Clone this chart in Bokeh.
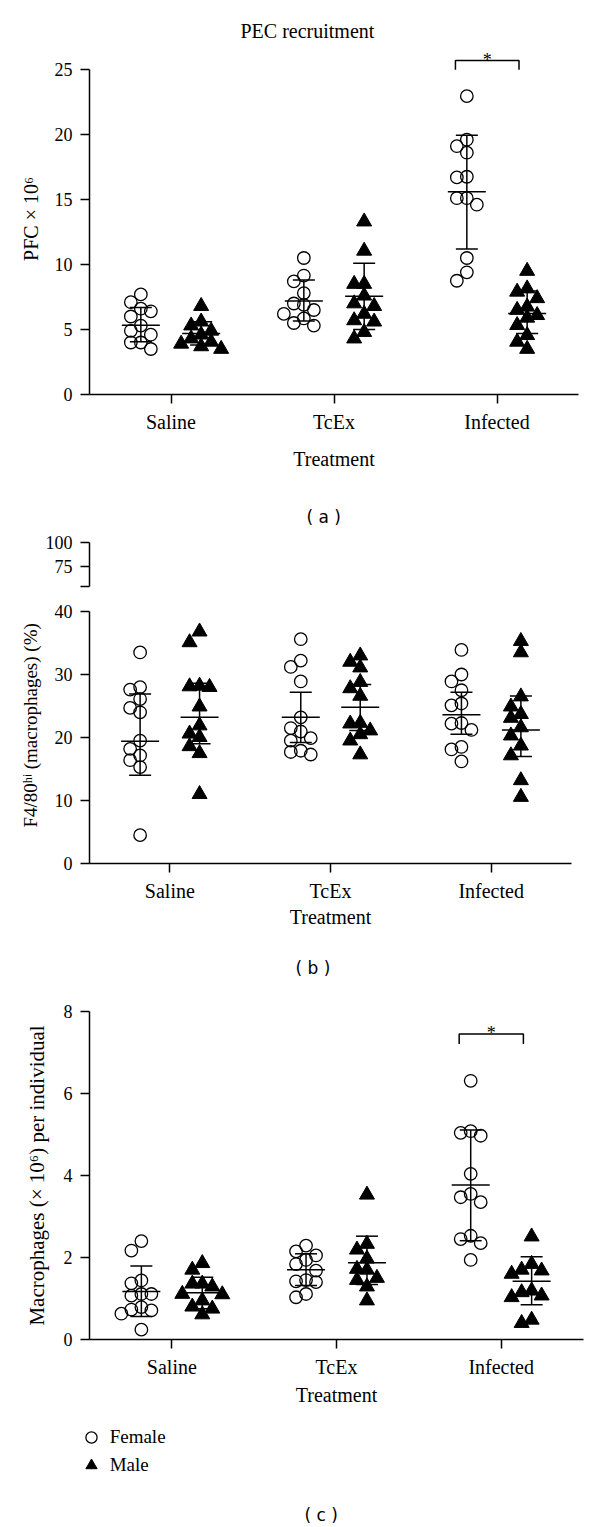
from bokeh.plotting import figure
from bokeh.layouts import column
from bokeh.models import (FixedTicker, Title, Legend, LegendItem, Whisker, TeeHead,
                          ColumnDataSource, Range1d)
from bokeh.embed import file_html
from bokeh.resources import INLINE
from bokeh.core.properties import value

# ---------------- data ----------------
categories = ["Saline", "TcEx", "Infected"]

# (a) PEC recruitment, PFC x 10^6
pec_f_saline = [7.7, 7.1, 6.6, 6.4, 6.0, 5.3, 4.9, 4.6, 4.0, 4.0, 3.5]
pec_m_saline = [6.8, 5.6, 5.3, 4.9, 4.6, 4.3, 4.05, 3.9, 3.7, 3.5]
pec_f_tcex = [10.5, 9.15, 8.7, 7.8, 7.0, 6.9, 6.5, 6.2, 5.85, 5.5, 5.3]
pec_m_tcex = [13.3, 11.05, 8.5, 8.5, 7.6, 7.0, 6.8, 6.2, 5.7, 5.6, 4.8, 4.3]
pec_f_inf = [22.95, 19.6, 19.1, 18.6, 16.75, 16.7, 15.1, 15.1, 14.6, 10.5, 9.4, 8.75]
pec_m_inf = [9.5, 8.15, 7.9, 7.4, 6.75, 6.5, 6.1, 5.9, 5.33, 4.56, 4.05, 3.5]
pec_f_mean = [5.33, 7.2, 15.6]
pec_f_lo = [4.05, 5.65, 11.2]
pec_f_hi = [6.7, 8.8, 19.95]
pec_m_mean = [4.7, 7.56, 6.23]
pec_m_lo = [3.8, 5.0, 4.7]
pec_m_hi = [5.6, 10.1, 7.97]
pec_sig_level = 25.7

# (b) F4/80hi (macrophages) (%)
f4_f_saline = [33.5, 28.0, 27.6, 26.1, 24.7, 24.0, 19.5, 18.2, 17.15, 16.4, 15.3, 4.5]
f4_m_saline = [36.8, 35.1, 28.2, 28.1, 28.0, 24.9, 21.9, 20.6, 20.05, 18.6, 17.5, 11.0]
f4_f_tcex = [35.6, 32.2, 31.2, 28.9, 23.2, 21.5, 20.95, 19.9, 19.5, 17.9, 17.7, 17.3]
f4_m_tcex = [33.0, 32.0, 31.1, 28.8, 27.8, 26.6, 22.3, 22.2, 21.1, 20.5, 19.5, 17.3]
f4_f_inf = [33.9, 30.0, 28.9, 27.5, 25.4, 25.1, 22.3, 22.2, 21.2, 18.5, 18.1, 16.2]
f4_m_inf = [35.3, 33.5, 26.5, 24.9, 23.7, 23.1, 21.6, 20.3, 18.7, 17.15, 13.2, 10.55]
f4_f_mean = [19.4, 23.2, 23.6]
f4_f_lo = [14.0, 19.2, 20.5]
f4_f_hi = [26.9, 27.2, 27.2]
f4_m_mean = [23.2, 24.8, 21.2]
f4_m_lo = [19.0, 21.1, 17.0]
f4_m_hi = [28.6, 28.4, 26.6]

# (c) Macrophages (x 10^6) per individual
mac_f_saline = [2.40, 2.17, 1.44, 1.37, 1.11, 1.11, 1.07, 0.79, 0.73, 0.71, 0.63, 0.24]
mac_m_saline = [1.86, 1.70, 1.36, 1.36, 1.29, 1.11, 1.10, 0.95, 0.80, 0.75, 0.61]
mac_f_tcex = [2.29, 2.15, 2.05, 1.94, 1.84, 1.68, 1.45, 1.42, 1.40, 1.11, 1.03]
mac_m_tcex = [3.53, 2.33, 2.19, 1.97, 1.72, 1.70, 1.50, 1.45, 1.29, 0.95]
mac_f_inf = [6.31, 5.08, 5.04, 4.97, 4.04, 3.55, 3.47, 3.35, 2.53, 2.45, 2.35, 1.94]
mac_m_inf = [2.51, 1.84, 1.70, 1.68, 1.60, 1.19, 1.15, 1.07, 1.03, 0.48, 0.40]
mac_f_mean = [1.17, 1.70, 3.77]
mac_f_lo = [0.56, 1.32, 2.41]
mac_f_hi = [1.79, 2.09, 5.11]
mac_m_mean = [1.14, 1.87, 1.42]
mac_m_lo = [0.75, 1.34, 0.85]
mac_m_hi = [1.52, 2.52, 2.02]
mac_sig_level = 7.45

legend_labels = ["Female", "Male"]

# ---------------- style ----------------
SERIF = "Liberation Serif"
SANS = "DejaVu Sans"
XFS = "20px"      # category labels
YFS = "18px"      # numeric tick labels
SEX_OFFSET = 0.185
LW = 1.5
FEMALE_STYLE = dict(marker="circle", size=12.5, fill_color=None, line_color="black", line_width=1.3)
MALE_STYLE = dict(marker="triangle", size=15, fill_color="black", line_color="black", line_width=1)
NAN = float("nan")


def swarm_slots(vals, px_per_unit, gap_px=11.0):
    order = sorted(range(len(vals)), key=lambda i: -vals[i])
    placed = {}
    slots = [0] * len(vals)
    for i in order:
        y = vals[i] * px_per_unit
        for s in (0, -1, 1, -2, 2, -3, 3):
            if all(abs(y - q) >= gap_px for q in placed.get(s, [])):
                break
        placed.setdefault(s, []).append(y)
        slots[i] = s
    return slots


def make_fig(fw, fh, left, right, top, bottom, y0, y1, x_axis=True):
    p = figure(frame_width=fw, frame_height=fh, min_border_left=left, min_border_right=right,
               min_border_top=top, min_border_bottom=bottom,
               x_range=Range1d(0.5, 3.5), y_range=Range1d(y0, y1),
               output_backend="svg", toolbar_location=None,
               x_axis_location="below" if x_axis else None)
    p.outline_line_color = None
    p.grid.visible = False
    p.background_fill_color = "white"
    p.border_fill_color = "white"
    for ax in p.axis:
        ax.axis_line_width = LW
        ax.axis_line_color = "black"
        ax.major_tick_line_width = LW
        ax.major_tick_line_color = "black"
        ax.major_tick_out = 9
        ax.major_tick_in = 0
        ax.minor_tick_out = 0
        ax.minor_tick_in = 0
        ax.major_label_text_font = SERIF
        ax.major_label_text_color = "black"
        ax.axis_label_text_font = SERIF
        ax.axis_label_text_font_size = "20px"
        ax.axis_label_text_font_style = "normal"
        ax.axis_label_text_color = "black"
    p.yaxis.major_label_standoff = 8
    p.yaxis.major_label_text_font_size = YFS
    if x_axis:
        p.xaxis.ticker = FixedTicker(ticks=[1, 2, 3])
        p.xaxis.major_label_overrides = {i + 1: c for i, c in enumerate(categories)}
        p.xaxis.major_label_standoff = 7
        p.xaxis.major_label_text_font_size = XFS
        p.xaxis.axis_label = "Treatment"
    return p


def add_title(p, text, place, offset, font=SERIF, size="20px", standoff=4):
    t = Title(text=text, align="left", offset=offset, text_font=font, text_font_size=size,
              text_font_style="normal", text_color="black", standoff=standoff)
    p.add_layout(t, place)
    return t


def add_spacer(p, px):
    p.add_layout(Title(text=" ", text_font_size="1px", standoff=px), "below")


def add_groups(p, fem, mal, fm, flo, fhi, mm, mlo, mhi, ypx, xpx):
    step = 10.0 / xpx
    fx, fy, mx, my = [], [], [], []
    for k, vals in enumerate(fem):
        c = k + 1 - SEX_OFFSET
        for v, s in zip(vals, swarm_slots(vals, ypx)):
            fx.append(c + s * step)
            fy.append(v)
    for k, vals in enumerate(mal):
        c = k + 1 + SEX_OFFSET
        for v, s in zip(vals, swarm_slots(vals, ypx)):
            mx.append(c + s * step)
            my.append(v)
    p.scatter(fx, fy, **FEMALE_STYLE)
    p.scatter(mx, my, **MALE_STYLE)
    xs = [k + 1 - SEX_OFFSET for k in range(3)] + [k + 1 + SEX_OFFSET for k in range(3)]
    src = ColumnDataSource(dict(x=xs, mean=list(fm) + list(mm),
                                lo=list(flo) + list(mlo), hi=list(fhi) + list(mhi)))
    p.add_layout(Whisker(source=src, base="x", lower="lo", upper="hi", line_width=LW,
                         line_color="black", level="overlay",
                         upper_head=TeeHead(size=22, line_width=LW, line_color="black"),
                         lower_head=TeeHead(size=22, line_width=LW, line_color="black")))
    p.scatter("x", "mean", source=src, marker="dash", size=38, line_width=LW,
              line_color="black")


def add_bracket(p, cat_index, level, leg, star_y):
    x0 = cat_index - SEX_OFFSET - 0.07
    x1 = cat_index + SEX_OFFSET - 0.05
    p.line([x0, x0, x1, x1], [level - leg, level, level, level - leg],
           line_color="black", line_width=LW)
    p.text([(x0 + x1) / 2], [star_y], text=["*"], text_font=value(SERIF),
           text_font_size="18px", text_align="center", text_baseline="alphabetic",
           text_color="black")


# ---------------- panel (a) ----------------
pa = make_fig(489, 351, 81, 14, 43, 136, 0, 27)
pa.yaxis.bounds = (0, 25)
pa.yaxis.ticker = FixedTicker(ticks=[0, 5, 10, 15, 20, 25])
pa.yaxis.axis_label = "PFC × 10⁶"
pa.yaxis.axis_label_standoff = 10
pa.xaxis.axis_label_standoff = 12
add_title(pa, "PEC recruitment", "above", 151, standoff=4)
add_groups(pa, [pec_f_saline, pec_f_tcex, pec_f_inf], [pec_m_saline, pec_m_tcex, pec_m_inf],
           pec_f_mean, pec_f_lo, pec_f_hi, pec_m_mean, pec_m_lo, pec_m_hi, 13.0, 163.0)
add_bracket(pa, 3, pec_sig_level, 0.72, pec_sig_level + 0.05)
add_spacer(pa, 27)
add_title(pa, "( a )", "below", 217, font=SANS, size="17px")

# ---------------- panel (b) upper axis segment ----------------
pbt = make_fig(482, 44, 89, 13, 12, 10, 54.5, 100, x_axis=False)
pbt.yaxis.ticker = FixedTicker(ticks=[54.5, 75, 100])
pbt.yaxis.major_label_overrides = {54.5: ""}

# ---------------- panel (b) ----------------
pb = make_fig(482, 252, 89, 13, 15, 127, 0, 40)
pb.yaxis.bounds = (0, 40)
pb.yaxis.ticker = FixedTicker(ticks=[0, 10, 20, 30, 40])
pb.xaxis.axis_label_standoff = 1
add_title(pb, "F4/80ʰⁱ (macrophages) (%)", "left", 36, size="19px", standoff=22)
add_groups(pb, [f4_f_saline, f4_f_tcex, f4_f_inf], [f4_m_saline, f4_m_tcex, f4_m_inf],
           f4_f_mean, f4_f_lo, f4_f_hi, f4_m_mean, f4_m_lo, f4_m_hi, 6.3, 161.0)
add_spacer(pb, 20)
add_title(pb, "( b )", "below", 206, font=SANS, size="17px")

# ---------------- panel (c) ----------------
pc = make_fig(494, 328, 78, 12, 21, 72, 0, 8)
pc.yaxis.ticker = FixedTicker(ticks=[0, 2, 4, 6, 8])
pc.yaxis.axis_label = "Macrophages (× 10⁶) per individual"
pc.yaxis.axis_label_text_font_size = "21px"
pc.yaxis.axis_label_standoff = 12
pc.xaxis.axis_label_standoff = 3
add_groups(pc, [mac_f_saline, mac_f_tcex, mac_f_inf], [mac_m_saline, mac_m_tcex, mac_m_inf],
           mac_f_mean, mac_f_lo, mac_f_hi, mac_m_mean, mac_m_lo, mac_m_hi, 41.0, 164.7)
add_bracket(pc, 3, mac_sig_level, 0.24, mac_sig_level + 0.02)

# ---------------- legend + panel label (c) ----------------
pd = figure(frame_width=576, frame_height=89, min_border_left=0, min_border_right=8,
            min_border_top=0, min_border_bottom=27, x_range=Range1d(0, 1), y_range=Range1d(0, 1),
            x_axis_location=None, y_axis_location=None,
            output_backend="svg", toolbar_location=None)
pd.outline_line_color = None
pd.grid.visible = False
pd.border_fill_color = "white"
# legend-only renderers (no visible points)
rf = pd.scatter([NAN], [NAN], **FEMALE_STYLE)
rm = pd.scatter([NAN], [NAN], **MALE_STYLE)
legend = Legend(items=[LegendItem(label=legend_labels[0], renderers=[rf]),
                       LegendItem(label=legend_labels[1], renderers=[rm])],
                location=(74, 21), orientation="vertical", border_line_color=None,
                background_fill_alpha=0, label_text_font=SERIF, label_text_font_size="19px",
                label_text_color="black",
                glyph_width=28, glyph_height=28, label_height=22, spacing=0,
                padding=0, margin=0, label_standoff=5)
pd.add_layout(legend, "center")
add_title(pd, "( c )", "below", 215, font=SANS, size="17px")

layout = column(pa, pbt, pb, pc, pd, spacing=0)
open("out.html", "w").write(file_html(layout, INLINE))
